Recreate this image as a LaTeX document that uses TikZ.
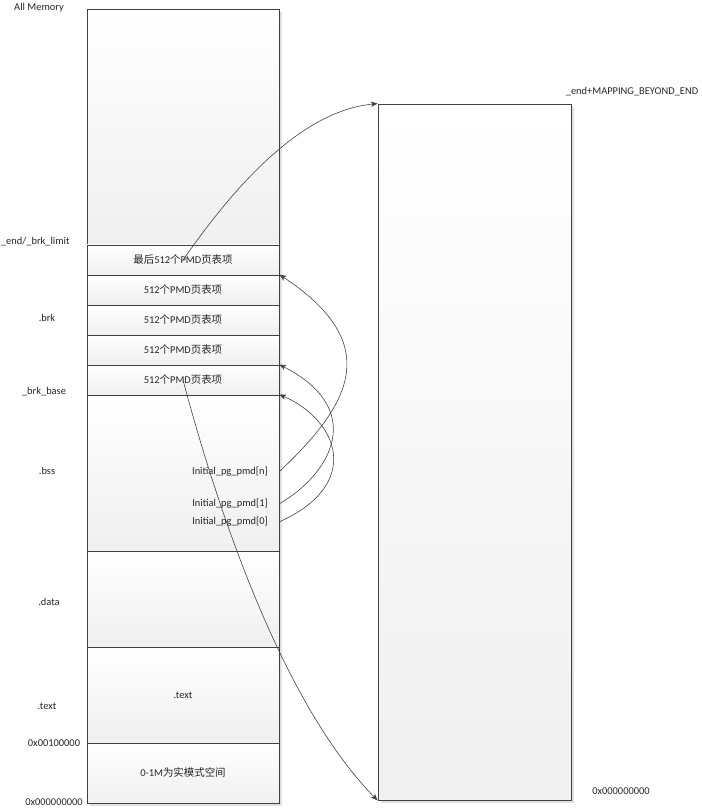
\documentclass[tikz,border=0pt]{standalone}
\usepackage{fontspec}
\setmainfont{Carlito}
\newfontfamily\cjkfont{Noto Sans CJK SC}
\usepackage{tikz}
\usetikzlibrary{arrows.meta}
\definecolor{edgegray}{RGB}{64,64,64}
\definecolor{shadowgray}{RGB}{225,225,225}
\newcommand{\zhtext}[1]{{\cjkfont #1}}

\begin{document}
\begin{tikzpicture}[>=Stealth, x=0.3mm, y=-0.3mm,
    font=\fontsize{8.9}{10}\selectfont,
    seg/.style={draw=edgegray, line width=0.7pt, rectangle, inner sep=0pt,
                top color=white, bottom color=black!6, text=black!85,
                minimum width=57.6mm},
    lbl/.style={text=black!85, inner sep=1pt},
    link/.style={->, draw=edgegray, line width=0.5pt,
                 >={Stealth[length=2mm, width=1.6mm, inset=0.5mm]}}]
  \useasboundingbox (0,0) rectangle (701,809);

  % shadows behind the two columns
  \fill[shadowgray] (90,12) rectangle (282,806);
  \fill[shadowgray] (381,107) rectangle (574,803);

  % all memory column
  \node[seg, minimum height=70.8mm] (free) at (183,127) {};
  \node[seg, minimum height=9mm] (pmdlast) at (183,260) {\zhtext{最后}512\zhtext{个}PMD\zhtext{页表项}};
  \node[seg, minimum height=9mm] (pmdc) at (183,290) {512\zhtext{个}PMD\zhtext{页表项}};
  \node[seg, minimum height=9mm] (pmdb) at (183,320) {512\zhtext{个}PMD\zhtext{页表项}};
  \node[seg, minimum height=9mm] (pmda) at (183,350) {512\zhtext{个}PMD\zhtext{页表项}};
  \node[seg, minimum height=9mm] (pmdbase) at (183,380) {512\zhtext{个}PMD\zhtext{页表项}};
  \node[seg, minimum height=46.8mm] (bss) at (183,473) {};
  \node[seg, minimum height=28.8mm] (data) at (183,599) {};
  \node[seg, minimum height=28.8mm] (text) at (183,695) {.text};
  \node[seg, minimum height=18mm] (realmode) at (183,773) {0-1M\zhtext{为实模式空间}};

  % mapped area
  \node[seg, minimum width=57.9mm, minimum height=208.8mm] (mapped) at (474.5,452) {};

  % labels on the left
  \node[lbl] (allmem) at (39,8) {All Memory};
  \node[lbl, anchor=east] (brklimit) at (71,242) {\_end/\_brk\_limit};
  \node[lbl] (brk) at (47,318) {.brk};
  \node[lbl] (brkbase) at (44,392) {\_brk\_base};
  \node[lbl] (bsslbl) at (47,471) {.bss};
  \node[lbl] (datalbl) at (49,602) {.data};
  \node[lbl] (textlbl) at (47,706) {.text};
  \node[lbl] (addrmb) at (54,743) {0x00100000};
  \node[lbl] (addrzero) at (54,802) {0x000000000};

  % labels on the right
  \node[lbl] (mapend) at (632,92) {\_end+MAPPING\_BEYOND\_END};
  \node[lbl] (mapzero) at (621,791) {0x000000000};

  % page table entries
  \node[lbl, anchor=east, inner xsep=3.3mm] (pmdn) at (279,472) {Initial\_pg\_pmd[n]};
  \node[lbl, anchor=east, inner xsep=3.3mm] (pmdone) at (279,504) {Initial\_pg\_pmd[1]};
  \node[lbl, anchor=east, inner xsep=3.3mm] (pmdzero) at (279,522) {Initial\_pg\_pmd[0]};

  % mapping arrows
  \draw[link] (pmdlast.center) .. controls +(42,-60) and +(-83,8) .. (mapped.north west);
  \draw[link] (pmdbase.center) .. controls +(32,120) and +(-98,-100) .. (mapped.south west);
  \draw[link] (pmdn.east) .. controls +(71,-67) and +(106,70) .. (pmdc.north east);
  \draw[link] (pmdone.east) .. controls +(52,-30) and +(88,45) .. (pmdbase.north east);
  \draw[link] (pmdzero.east) .. controls +(85,-38) and +(58,25) .. (bss.north east);
\end{tikzpicture}
\end{document}
